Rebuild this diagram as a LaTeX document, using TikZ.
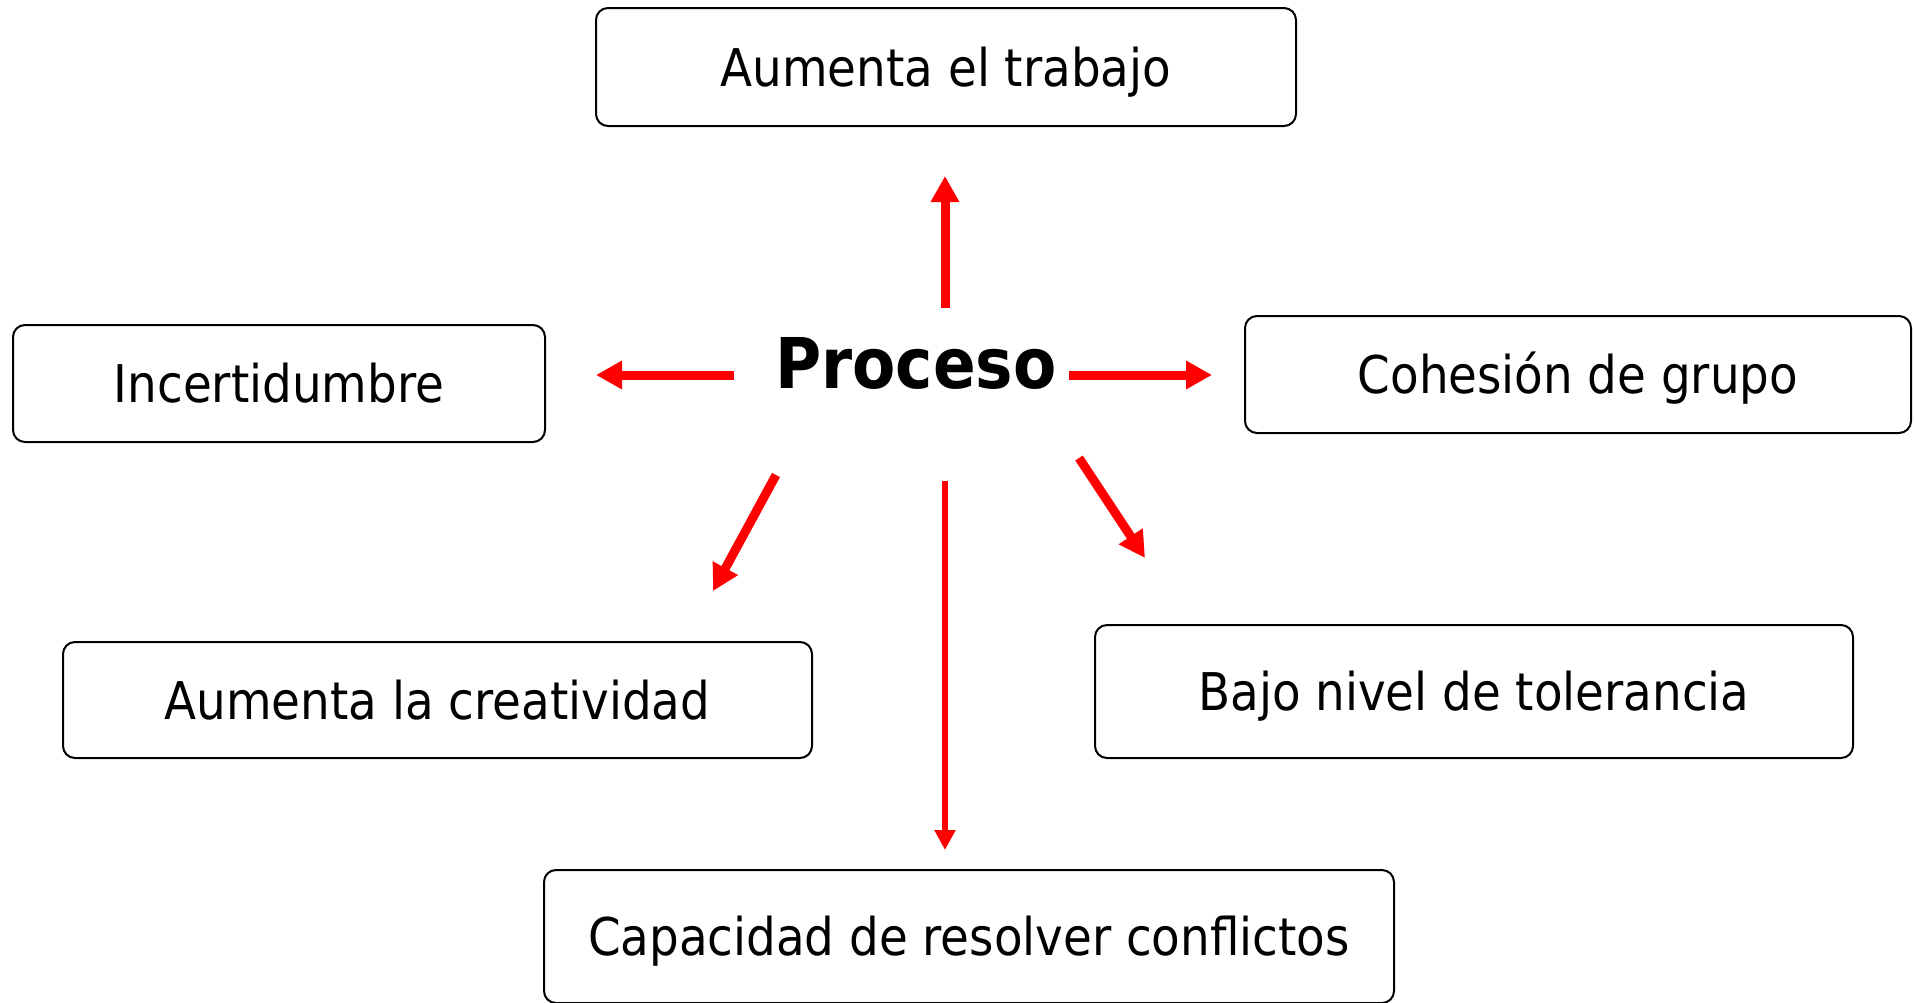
\documentclass[tikz,border=0pt]{standalone}
\usepackage{fontspec}
\setmainfont{DejaVu Sans Condensed}
\usetikzlibrary{arrows.meta}
\begin{document}
\begin{tikzpicture}[x=0.5pt,y=-0.5pt,
  box/.style={draw=black,line width=1pt,rounded corners=6pt,fill=white,
    font=\fontsize{26pt}{30pt}\selectfont,text height=19pt,text depth=0pt,inner sep=0pt},
  redarrow/.style={draw=red,line width=4.5pt,-{Triangle[width=13.5pt,length=13pt]}},
  thinarrow/.style={draw=red,line width=3pt,-{Triangle[width=10pt,length=10pt]}}]
\useasboundingbox (0,0) rectangle (1914,1002);
\node[box,minimum width=350pt,minimum height=59pt] (top) at (946,67) {Aumenta el trabajo};
\node[box,minimum width=266pt,minimum height=58.5pt] (inc) at (279,383.5) {Incertidumbre};
\node[box,minimum width=333pt,minimum height=58.5pt] (coh) at (1578,374.5) {Cohesión de grupo};
\node[box,minimum width=374.5pt,minimum height=58pt] (cre) at (437.5,700) {Aumenta la creatividad};
\node[box,minimum width=379pt,minimum height=66.5pt] (baj) at (1474,691.5) {Bajo nivel de tolerancia};
\node[box,minimum width=425pt,minimum height=66.5pt] (cap) at (969,936.5) {Capacidad de resolver conflictos};
\node[font=\fontsize{35pt}{40pt}\selectfont\bfseries,inner sep=0pt,text height=25.5pt,text depth=0pt] (proc) at (916,363) {Proceso};
\coordinate (upS) at (945,308);   \coordinate (upE) at (945,176);
\coordinate (lS) at (734,375);    \coordinate (lE) at (596,375);
\coordinate (rS) at (1069,375);   \coordinate (rE) at (1212,375);
\coordinate (dlS) at (776,475);   \coordinate (dlE) at (713,591);
\coordinate (dS) at (945,481);    \coordinate (dE) at (945,850);
\coordinate (drS) at (1079,458);  \coordinate (drE) at (1145,558);
\draw[redarrow] (upS) -- (upE);
\draw[redarrow] (lS) -- (lE);
\draw[redarrow] (rS) -- (rE);
\draw[redarrow] (dlS) -- (dlE);
\draw[thinarrow] (dS) -- (dE);
\draw[redarrow] (drS) -- (drE);
\end{tikzpicture}
\end{document}
